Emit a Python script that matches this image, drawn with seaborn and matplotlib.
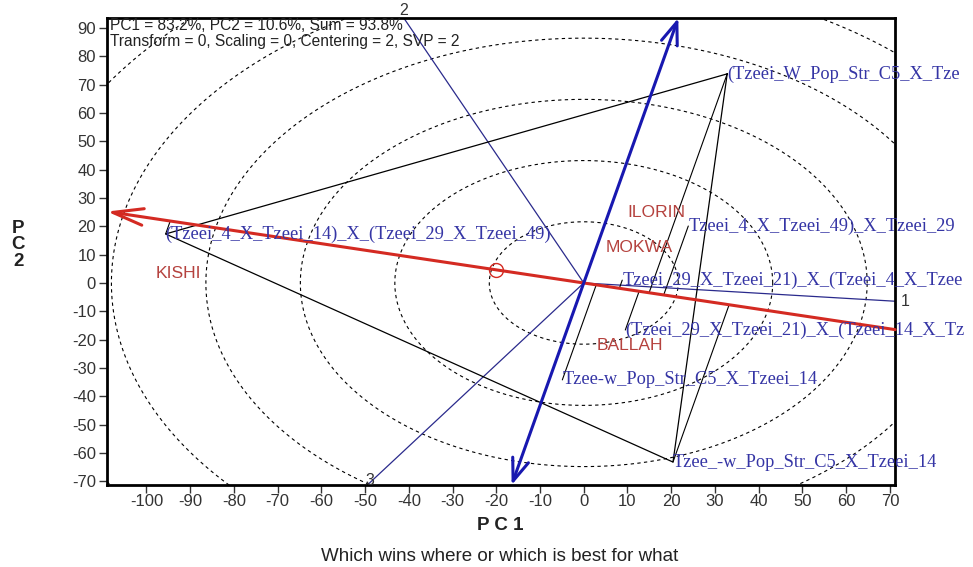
import numpy as np
import pandas as pd
import matplotlib.pyplot as plt
import seaborn as sns

# genotype scores on PC1 / PC2; names as far as the
# reference shows them before the picture edge
gen_names = ["(Tzeei_W_Pop_Str_C5_X_Tze",
             "(Tzeei_4_X_Tzeei_14)_X_(Tzeei_29_X_Tzeei_49)",
             "Tzee_-w_Pop_Str_C5_X_Tzeei_14",
             "Tzeei_4_X_Tzeei_49)_X_Tzeei_29",
             "Tzeei_29_X_Tzeei_21)_X_(Tzeei_4_X_Tzee",
             "(Tzeei_29_X_Tzeei_21)_X_(Tzeei_14_X_Tz",
             "Tzee-w_Pop_Str_C5_X_Tzeei_14"]
gen_pc1 = [32.8, -95.6, 20.4, 23.9, 8.8, 9.5, -4.9]
gen_pc2 = [73.8, 17.3, -63.2, 20.1, 1.0, -16.6, -34.2]
hull_idx = [0, 1, 2]          # vertex genotypes of the polygon
ray_labels = ["2", "3", "1"]  # sector line for side 0-1, 1-2, 2-0

# environment scores
env_names = ["ILORIN", "MOKWA", "KISHI", "BALLAH"]
env_pc1 = [10.0, 5.0, -98.0, 3.0]
env_pc2 = [25.0, 12.5, 3.2, -22.2]

circle_radii = [21.6, 43.2, 64.8, 86.4, 108.0, 129.6]
xticks = list(range(-100, 71, 10))
yticks = list(range(-70, 91, 10))
xlim = (-109.0, 71.2)
ylim = (-71.3, 93.5)

stats1 = "PC1 = 83.2%, PC2 = 10.6%, Sum = 93.8%"
stats2 = "Transform = 0, Scaling = 0, Centering = 2, SVP = 2"

gen = pd.DataFrame({"name": gen_names, "pc1": gen_pc1, "pc2": gen_pc2})
env = pd.DataFrame({"name": env_names, "pc1": env_pc1, "pc2": env_pc2})

sns.set_style("ticks")
plt.rcParams["font.family"] = ["Liberation Sans", "DejaVu Sans"]
plt.rcParams["axes.unicode_minus"] = False

RED = "#d42a22"
BLUE = "#1818b0"
NAVY = "#2a2a8c"
GCOL = "#3535a5"
ECOL = "#b5423e"
SERIF = ["Liberation Serif", "DejaVu Serif"]

fig = plt.figure(figsize=(9.73, 5.67), dpi=100)
ax = fig.add_axes([0.110, 0.1446, 0.810, 0.8236])
ax.set_xlim(*xlim)
ax.set_ylim(*ylim)


def to_edge(d):
    # how far a ray from the origin goes before leaving the axes box
    ts = []
    ts.append(xlim[1] / d[0] if d[0] > 0 else xlim[0] / d[0])
    ts.append(ylim[1] / d[1] if d[1] > 0 else ylim[0] / d[1])
    return min(ts) * d


# concentric circles round the origin
th = np.linspace(0, 2 * np.pi, 900)
for r in circle_radii:
    ax.plot(r * np.cos(th), r * np.sin(th), color="black", lw=0.8,
            ls=(0, (3, 3)), zorder=1)

# polygon of the vertex genotypes
poly = gen.iloc[hull_idx + [hull_idx[0]]].reset_index(drop=True)
sns.lineplot(data=poly, x="pc1", y="pc2", sort=False, estimator=None,
             color="black", lw=0.9, ax=ax, zorder=3)

# sector lines perpendicular to each polygon side
for k in range(len(hull_idx)):
    a = gen.iloc[hull_idx[k]][["pc1", "pc2"]].to_numpy(float)
    b = gen.iloc[hull_idx[(k + 1) % len(hull_idx)]][["pc1", "pc2"]].to_numpy(float)
    s = b - a
    p = np.array([-s[1], s[0]])
    if np.dot(p, (a + b) / 2) < 0:
        p = -p
    p = p / np.linalg.norm(p)
    end = to_edge(p)
    ax.plot([0, end[0]], [0, end[1]], color=NAVY, lw=0.9, zorder=2)
    if abs(end[1] - ylim[1]) < 1e-6:
        off, ha, va = (0, 0), "center", "bottom"
    elif abs(end[0] - xlim[1]) < 1e-6:
        off, ha, va = (4, 0), "left", "center"
    else:
        off, ha, va = (2, 3), "center", "center"
    ax.annotate(ray_labels[k], xy=end, xytext=off, textcoords="offset points",
                ha=ha, va=va, fontsize=11.5, color="#333333", annotation_clip=False)

# average environment axis (through origin and the mean environment)
m = env[["pc1", "pc2"]].mean().to_numpy()
u = m / np.linalg.norm(m)
nrm = np.array([-u[1], u[0]])
if nrm[1] < 0:
    nrm = -nrm
left_end = to_edge(u)
right_end = to_edge(-u)
ax.annotate("", xy=left_end, xytext=right_end,
            arrowprops=dict(arrowstyle="->,head_length=1.1,head_width=0.3",
                            color=RED, lw=2.2, mutation_scale=20,
                            shrinkA=0, shrinkB=0), zorder=4)
top_end = to_edge(nrm)
bot_end = to_edge(-nrm)
ax.annotate("", xy=top_end, xytext=bot_end,
            arrowprops=dict(arrowstyle="<->,head_length=0.8,head_width=0.3",
                            color=BLUE, lw=2.2, mutation_scale=20,
                            shrinkA=0, shrinkB=0), zorder=4)
ax.plot([m[0]], [m[1]], marker="o", ms=10, mfc="none", mec=RED, mew=1,
        zorder=5)

# projections of genotypes onto the average environment axis
for _, g in gen.iterrows():
    v = np.array([g.pc1, g.pc2])
    foot = np.dot(v, u) * u
    ax.plot([v[0], foot[0]], [v[1], foot[1]], color="black", lw=0.8, zorder=3)

# labels
for _, g in gen.iterrows():
    ax.text(g.pc1, g.pc2, g["name"], family=SERIF, fontsize=13.2, color=GCOL,
            ha="left", va="center", clip_on=False, zorder=6)
for _, e in env.iterrows():
    ax.text(e.pc1, e.pc2, e["name"], fontsize=12.6, color=ECOL,
            ha="left", va="center", zorder=6)

ax.text(0.004, 0.985, stats1, transform=ax.transAxes, fontsize=11.2,
        color="#222222", ha="left", va="center")
ax.text(0.004, 0.949, stats2, transform=ax.transAxes, fontsize=11.2,
        color="#222222", ha="left", va="center")

ax.set_xticks(xticks)
ax.set_yticks(yticks)
ax.tick_params(direction="out", length=6, width=1, labelsize=12,
               colors="#333333")
ax.tick_params(axis="x", pad=0.5)
ax.tick_params(axis="y", pad=2)
for sp in ax.spines.values():
    sp.set_linewidth(2)
    sp.set_color("black")
ax.set_xlabel("")
ax.set_ylabel("")

fig.text(0.514, 0.074, "P C 1", fontsize=13.5, fontweight="bold",
         ha="center", va="center", color="#222222")
fig.text(0.019, 0.568, "P\nC\n2", fontsize=13.5, fontweight="bold",
         ha="center", va="center", linespacing=0.95, color="#222222")
fig.text(0.514, 0.018, "Which wins where or which is best for what",
         fontsize=13.5, ha="center", va="center", color="#222222")

fig.savefig("out.png", dpi=100)
